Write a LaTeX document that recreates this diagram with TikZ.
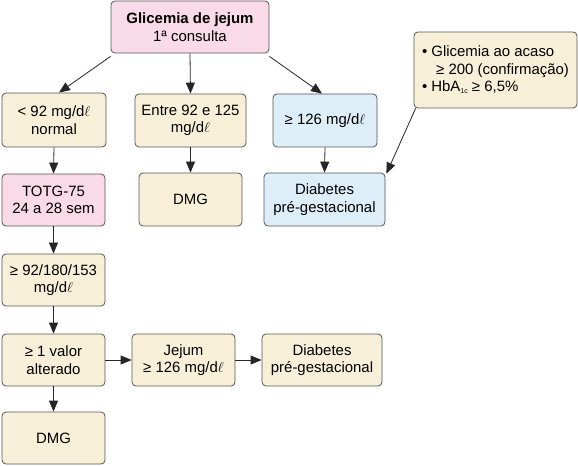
\documentclass[tikz,border=0pt]{standalone}
\usepackage{fontspec}
\setmainfont{Liberation Sans}
\usetikzlibrary{arrows.meta}
\definecolor{cpink}{RGB}{249,218,232}
\definecolor{cbeige}{RGB}{248,239,216}
\definecolor{cblue}{RGB}{221,238,248}
\definecolor{cedge}{RGB}{85,85,85}
\tikzset{
  box/.style={draw=cedge, line width=0.8bp, rounded corners=4bp, align=center,
    inner sep=2bp, font=\fontsize{15}{17.5}\selectfont},
  pinkbox/.style={box, fill=cpink},
  beigebox/.style={box, fill=cbeige},
  bluebox/.style={box, fill=cblue},
  arr/.style={draw=black!85, line width=0.8bp, -{Triangle[length=11bp,width=9bp]}},
}
\newcommand{\mgdl}{mg/d$\ell$}
\begin{document}
\begin{tikzpicture}[x=1bp,y=-1bp]
\useasboundingbox (0,0) rectangle (578,466);
\node[pinkbox, minimum width=158bp, minimum height=52bp] (top) at (190,27)
  {\textbf{Glicemia de jejum}\\1ª consulta};
\node[beigebox, minimum width=104bp, minimum height=54bp] (lt) at (54,120)
  {< 92 \mgdl\\normal};
\node[beigebox, minimum width=111bp, minimum height=53bp] (mid) at (190.5,120.5)
  {Entre 92 e 125\\\mgdl};
\node[bluebox, minimum width=104bp, minimum height=53bp] (hi) at (325,120.5)
  {≥ 126 \mgdl};
\node[beigebox, minimum width=163bp, minimum height=76bp, align=left] (rb) at (495.5,70)
  {• Glicemia ao acaso\\\hspace{0.95em}≥ 200 (confirmação)\\• HbA\raisebox{-2bp}{\fontsize{7}{7}\selectfont 1c} ≥ 6,5\%};
\node[pinkbox, minimum width=103bp, minimum height=52bp] (totg) at (53.5,200)
  {TOTG-75\\24 a 28 sem};
\node[beigebox, minimum width=103bp, minimum height=53bp] (dmga) at (190.5,199.5)
  {DMG};
\node[bluebox, minimum width=121bp, minimum height=53bp] (diaba) at (324.5,199.5)
  {Diabetes\\pré-gestacional};
\node[beigebox, minimum width=103bp, minimum height=52bp] (v92) at (53.5,280)
  {≥ 92/180/153\\\mgdl};
\node[beigebox, minimum width=103bp, minimum height=52bp] (v1) at (53.5,360)
  {≥ 1 valor\\alterado};
\node[beigebox, minimum width=103bp, minimum height=52bp] (jej) at (183.5,360)
  {Jejum\\≥ 126 \mgdl};
\node[beigebox, minimum width=120bp, minimum height=52bp] (diabb) at (322,360)
  {Diabetes\\pré-gestacional};
\node[beigebox, minimum width=103bp, minimum height=52bp] (dmgb) at (53.5,438)
  {DMG};
% connectors
\draw[arr] ([yshift=-3bp]top.south west) -- ([xshift=5bp]lt.north);
\draw[arr] (top.south) -- (mid.north);
\draw[arr] ([yshift=-3bp]top.south east) -- ([xshift=-3bp]hi.north);
\draw[arr] ([xshift=2bp]rb.south west) -- ([xshift=1bp,yshift=-1bp]diaba.north east);
\draw[arr] (lt.south) -- (totg.north);
\draw[arr] (mid.south) -- (dmga.north);
\draw[arr] (hi.south) -- (diaba.north);
\draw[arr] (totg.south) -- (v92.north);
\draw[arr] (v92.south) -- (v1.north);
\draw[arr] (v1.south) -- (dmgb.north);
\draw[arr] (v1.east) -- (jej.west);
\draw[arr] (jej.east) -- (diabb.west);
\end{tikzpicture}
\end{document}
